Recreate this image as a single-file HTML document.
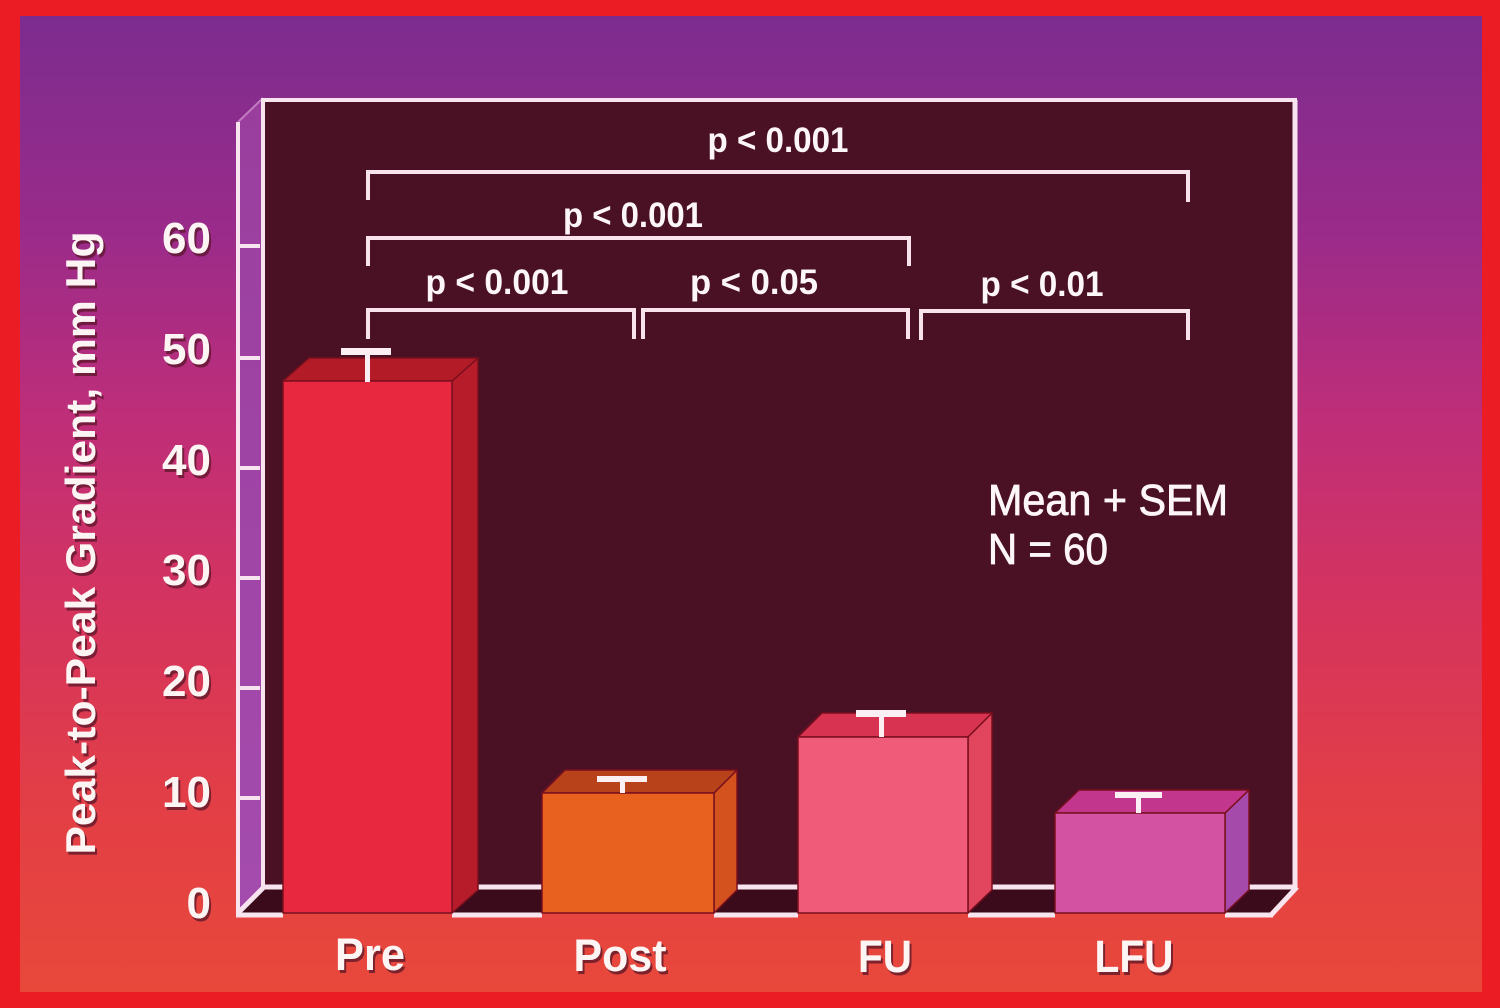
<!DOCTYPE html>
<html><head><meta charset="utf-8">
<style>
html,body{margin:0;padding:0;background:#ec1c24;}
svg{display:block;}
text{font-family:"Liberation Sans",Arial,sans-serif;}
</style></head>
<body>
<svg width="1500" height="1008" viewBox="0 0 1500 1008" xmlns="http://www.w3.org/2000/svg">
<defs>
<linearGradient id="bg" x1="0" y1="0" x2="0" y2="1">
<stop offset="0" stop-color="#7c2c8f"/>
<stop offset="0.22" stop-color="#9a2b8a"/>
<stop offset="0.42" stop-color="#c02e78"/>
<stop offset="0.62" stop-color="#d6345c"/>
<stop offset="0.82" stop-color="#e33f45"/>
<stop offset="1" stop-color="#e8483a"/>
</linearGradient>
<linearGradient id="wall" x1="0" y1="0" x2="0" y2="1">
<stop offset="0" stop-color="#9a3e9e"/>
<stop offset="1" stop-color="#a44cae"/>
</linearGradient>
</defs>
<rect width="1500" height="1008" fill="#ec1c24"/>
<rect x="20" y="16" width="1462" height="976" fill="url(#bg)"/>

<!-- back wall -->
<rect x="263" y="100" width="1032" height="788" fill="#4a1024" stroke="#f8e4ee" stroke-width="4"/>
<!-- left wall -->
<polygon points="238,122 263,98 263,888 238,913" fill="url(#wall)"/>
<line x1="238" y1="122" x2="263" y2="98" stroke="#c27cc0" stroke-width="2"/>
<line x1="238" y1="122" x2="238" y2="915" stroke="#f8e4ee" stroke-width="4"/>
<line x1="263" y1="98" x2="263" y2="888" stroke="#f8e4ee" stroke-width="4"/>
<g stroke="#f8e4ee" stroke-width="4">
<line x1="238" y1="246" x2="260" y2="246"/>
<line x1="238" y1="358" x2="260" y2="358"/>
<line x1="238" y1="468" x2="260" y2="468"/>
<line x1="238" y1="578" x2="260" y2="578"/>
<line x1="238" y1="688" x2="260" y2="688"/>
<line x1="238" y1="798" x2="260" y2="798"/>
</g>
<!-- floor -->
<polygon points="238,913 263,888 1297,888 1272,913" fill="#3c0b1b"/>
<g stroke="#f8e4ee" stroke-width="5" fill="none">
<line x1="263" y1="887" x2="1297" y2="887"/>
<line x1="1295" y1="100" x2="1295" y2="888"/>
<line x1="1297" y1="887" x2="1271" y2="915"/>
<line x1="238" y1="913" x2="263" y2="888"/>
<line x1="236" y1="915" x2="283" y2="915"/>
<line x1="452" y1="915" x2="542" y2="915"/>
<line x1="714" y1="915" x2="798" y2="915"/>
<line x1="968" y1="915" x2="1055" y2="915"/>
<line x1="1225" y1="915" x2="1273" y2="915"/>
</g>

<!-- bars -->
<g stroke="#7a0f1e" stroke-width="1.5" stroke-linejoin="round">
<!-- Pre -->
<polygon points="452,381 478,358 478,890 452,913" fill="#b71c2a"/>
<polygon points="283,381 452,381 478,358 309,358" fill="#b31c26"/>
<rect x="283" y="381" width="169" height="532" fill="#e8283f"/>
<!-- Post -->
<polygon points="714,793 737,770 737,890 714,913" fill="#d4521e"/>
<polygon points="542,793 714,793 737,770 565,770" fill="#b8421a"/>
<rect x="542" y="793" width="172" height="120" fill="#e8611f"/>
<!-- FU -->
<polygon points="968,737 992,713 992,890 968,913" fill="#e2465f"/>
<polygon points="798,737 968,737 992,713 822,713" fill="#d83452"/>
<rect x="798" y="737" width="170" height="176" fill="#f05b7a"/>
<!-- LFU -->
<polygon points="1225,813 1249,790 1249,890 1225,913" fill="#a54aaa"/>
<polygon points="1055,813 1225,813 1249,790 1079,790" fill="#c2368e"/>
<rect x="1055" y="813" width="170" height="100" fill="#d452a2"/>
</g>

<!-- error bars -->
<g fill="#fbeff3">
<rect x="341" y="348" width="50" height="7"/><rect x="365" y="348" width="5" height="34"/>
<rect x="597" y="776" width="50" height="6"/><rect x="620" y="776" width="5" height="17"/>
<rect x="856" y="710" width="50" height="7"/><rect x="879" y="710" width="5" height="27"/>
<rect x="1115" y="792" width="47" height="6"/><rect x="1136" y="792" width="5" height="21"/>
</g>

<!-- brackets -->
<g stroke="#f8e2ec" stroke-width="4" fill="none">
<path d="M368,200 V172 H1188 V202"/>
<path d="M368,266 V238 H909 V266"/>
<path d="M368,339 V310 H634 V339"/>
<path d="M643,339 V310 H908 V339"/>
<path d="M921,340 V311 H1188 V340"/>
</g>

<!-- p-values -->
<g fill="#fdf6f8" font-weight="bold" font-size="35" text-anchor="middle">
<text x="778" y="152" textLength="141" lengthAdjust="spacingAndGlyphs">p &lt; 0.001</text>
<text x="633" y="227" textLength="140" lengthAdjust="spacingAndGlyphs">p &lt; 0.001</text>
<text x="497" y="294" textLength="143" lengthAdjust="spacingAndGlyphs">p &lt; 0.001</text>
<text x="754" y="294" textLength="128" lengthAdjust="spacingAndGlyphs">p &lt; 0.05</text>
<text x="1042" y="296" textLength="123" lengthAdjust="spacingAndGlyphs">p &lt; 0.01</text>
</g>

<!-- legend -->
<g fill="#fdf6f8" font-size="44" stroke="#fdf6f8" stroke-width="0.8">
<text x="988" y="515" textLength="240" lengthAdjust="spacingAndGlyphs">Mean + SEM</text>
<text x="988" y="564" textLength="120" lengthAdjust="spacingAndGlyphs">N = 60</text>
</g>

<!-- y tick labels -->
<g font-weight="bold" font-size="44" text-anchor="end">
<g fill="#5a1628" opacity="0.75" transform="translate(2,3)">
<text x="211" y="253">60</text><text x="211" y="364">50</text><text x="211" y="475">40</text>
<text x="211" y="585">30</text><text x="211" y="696">20</text><text x="211" y="807">10</text><text x="211" y="918">0</text>
</g>
<g fill="#fdf4f4">
<text x="211" y="253">60</text><text x="211" y="364">50</text><text x="211" y="475">40</text>
<text x="211" y="585">30</text><text x="211" y="696">20</text><text x="211" y="807">10</text><text x="211" y="918">0</text>
</g>
</g>

<!-- x labels -->
<g font-weight="bold" font-size="45" text-anchor="middle">
<g fill="#5a1628" opacity="0.75" transform="translate(2,3)">
<text x="370" y="970" textLength="70" lengthAdjust="spacingAndGlyphs">Pre</text>
<text x="620" y="971" textLength="93" lengthAdjust="spacingAndGlyphs">Post</text>
<text x="885" y="972" textLength="54" lengthAdjust="spacingAndGlyphs">FU</text>
<text x="1134" y="972" textLength="79" lengthAdjust="spacingAndGlyphs">LFU</text>
</g>
<g fill="#fdf4f4">
<text x="370" y="970" textLength="70" lengthAdjust="spacingAndGlyphs">Pre</text>
<text x="620" y="971" textLength="93" lengthAdjust="spacingAndGlyphs">Post</text>
<text x="885" y="972" textLength="54" lengthAdjust="spacingAndGlyphs">FU</text>
<text x="1134" y="972" textLength="79" lengthAdjust="spacingAndGlyphs">LFU</text>
</g>
</g>

<!-- y title -->
<g font-weight="bold" font-size="42" text-anchor="middle">
<text transform="translate(97,546) rotate(-90)" fill="#5a1628" opacity="0.75" textLength="623" lengthAdjust="spacingAndGlyphs">Peak-to-Peak Gradient, mm Hg</text>
<text transform="translate(95,543) rotate(-90)" fill="#fdf4f4" textLength="623" lengthAdjust="spacingAndGlyphs">Peak-to-Peak Gradient, mm Hg</text>
</g>
</svg>
</body></html>
